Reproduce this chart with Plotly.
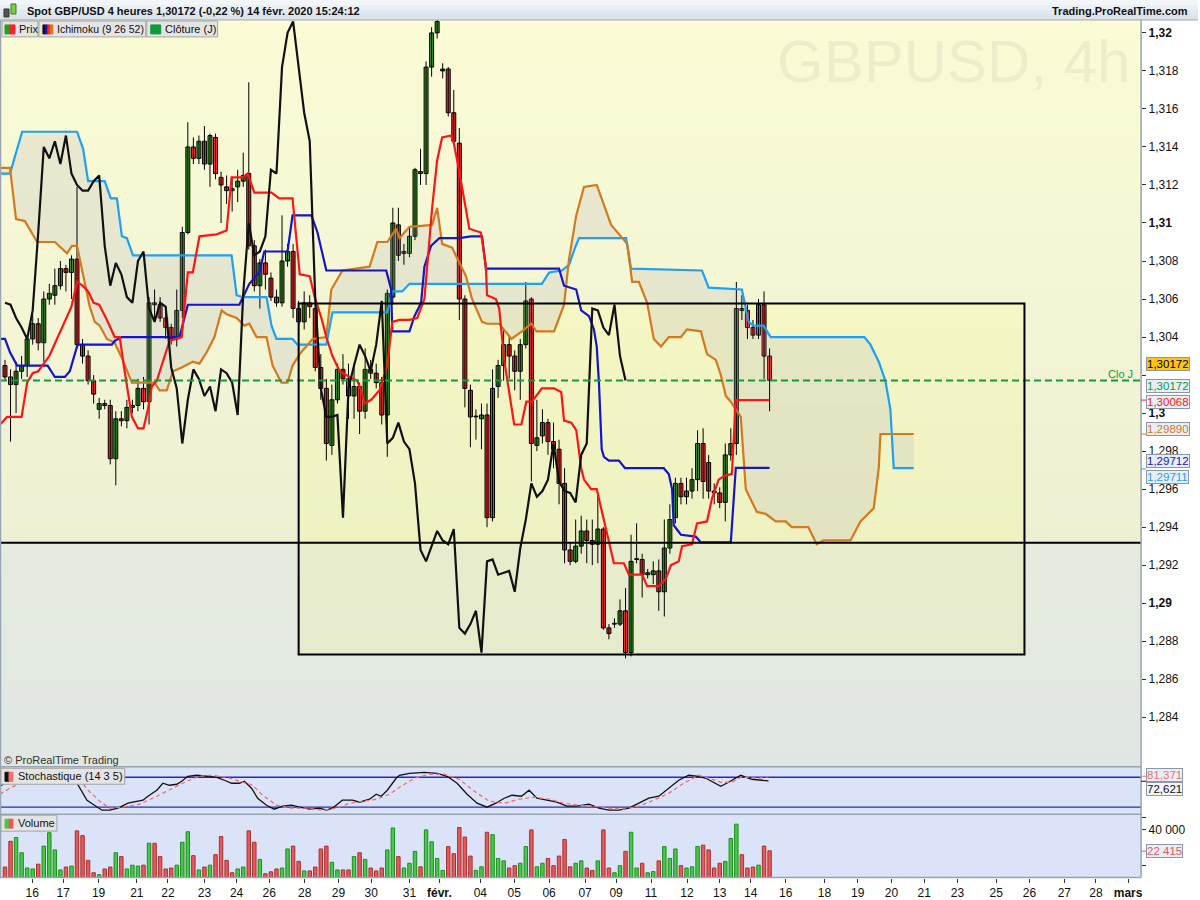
import plotly.graph_objects as go

W, H = 1200, 900
def fx(px): return px / W
def fy(py): return 1 - py / H

FONT = 'Liberation Sans, Arial, sans-serif'

# ---------------- data (4h candles, bar index 0 = first visible bar) ----------------
opens = [1.3025, 1.3019, 1.3015, 1.3022, 1.3025, 1.3039, 1.3047, 1.3037, 1.3060, 1.3062,
         1.3067, 1.3076, 1.3074, 1.3081, 1.3036, 1.3030, 1.3017, 1.3002, 1.3005, 1.3004,
         1.2976, 1.2997, 1.2996, 1.3003, 1.3004, 1.3013, 1.3006, 1.3058, 1.3057, 1.3050,
         1.3045, 1.3039, 1.3054, 1.3095, 1.3140, 1.3134, 1.3143, 1.3131, 1.3145, 1.3124,
         1.3119, 1.3118, 1.3119, 1.3122, 1.3126, 1.3088, 1.3067, 1.3079, 1.3071, 1.3061,
         1.3058, 1.3080, 1.3085, 1.3055, 1.3048, 1.3058, 1.3055, 1.3024, 1.3013, 1.2983,
         1.3007, 1.3023, 1.3018, 1.3009, 1.3014, 1.3001, 1.3023, 1.3021, 1.3016, 1.2999,
         1.3061, 1.3099, 1.3084, 1.3084, 1.3093, 1.3127, 1.3126, 1.3182, 1.3200, 1.3180,
         1.3181, 1.3158, 1.3142, 1.3060, 1.3012, 1.2998, 1.2997, 1.2999, 1.2945, 1.3014,
         1.3025, 1.3036, 1.3030, 1.3022, 1.3036, 1.3060, 1.2983, 1.2988, 1.2995, 1.2985,
         1.2981, 1.2963, 1.2928, 1.2922, 1.2930, 1.2938, 1.2933, 1.2931, 1.2939, 1.2887,
         1.2889, 1.2889, 1.2896, 1.2874, 1.2923, 1.2923, 1.2915, 1.2915, 1.2917, 1.2906,
         1.2929, 1.2945, 1.2963, 1.2956, 1.2959, 1.2965, 1.2984, 1.2974, 1.2959, 1.2958,
         1.2953, 1.2978, 1.2984, 1.3055, 1.3054, 1.3045, 1.3041, 1.3057, 1.3030]
highs = [1.3028, 1.3023, 1.3027, 1.3030, 1.3041, 1.3052, 1.3050, 1.3064, 1.3068, 1.3076,
         1.3080, 1.3078, 1.3083, 1.3119, 1.3039, 1.3033, 1.3020, 1.3008, 1.3007, 1.3007,
         1.3001, 1.3001, 1.3007, 1.3007, 1.3018, 1.3019, 1.3061, 1.3065, 1.3061, 1.3054,
         1.3047, 1.3065, 1.3098, 1.3153, 1.3145, 1.3146, 1.3151, 1.3147, 1.3147, 1.3127,
         1.3125, 1.3124, 1.3128, 1.3137, 1.3174, 1.3091, 1.3081, 1.3086, 1.3074, 1.3065,
         1.3104, 1.3089, 1.3089, 1.3059, 1.3064, 1.3062, 1.3057, 1.3031, 1.3018, 1.3015,
         1.3026, 1.3031, 1.3026, 1.3026, 1.3016, 1.3034, 1.3028, 1.3026, 1.3019, 1.3065,
         1.3108, 1.3108, 1.3089, 1.3098, 1.3129, 1.3139, 1.3185, 1.3203, 1.3207, 1.3184,
         1.3182, 1.3170, 1.3150, 1.3062, 1.3015, 1.3002, 1.3005, 1.3005, 1.3023, 1.3028,
         1.3044, 1.3041, 1.3033, 1.3039, 1.3069, 1.3061, 1.3007, 1.3002, 1.2997, 1.2995,
         1.2986, 1.2971, 1.2932, 1.2944, 1.2946, 1.2944, 1.2944, 1.2957, 1.2940, 1.2889,
         1.2892, 1.2902, 1.2908, 1.2936, 1.2942, 1.2926, 1.2918, 1.2922, 1.2923, 1.2944,
         1.2952, 1.2966, 1.2966, 1.2966, 1.2971, 1.2991, 1.2992, 1.2978, 1.2963, 1.2961,
         1.2984, 1.2992, 1.3069, 1.3062, 1.3057, 1.3049, 1.3060, 1.3064, 1.3034]
lows = [1.3017, 1.2985, 1.3000, 1.3018, 1.3019, 1.3036, 1.3033, 1.3027, 1.3057, 1.3057,
        1.3065, 1.3064, 1.3060, 1.3034, 1.3026, 1.3015, 1.3005, 1.2997, 1.3002, 1.2973,
        1.2962, 1.2993, 1.2992, 1.3000, 1.3001, 1.3002, 1.2994, 1.3049, 1.3048, 1.3039,
        1.3036, 1.3035, 1.3050, 1.3094, 1.3131, 1.3131, 1.3128, 1.3119, 1.3123, 1.3100,
        1.3110, 1.3106, 1.3111, 1.3119, 1.3086, 1.3064, 1.3055, 1.3065, 1.3059, 1.3056,
        1.3056, 1.3077, 1.3050, 1.3045, 1.3044, 1.3050, 1.3022, 1.3007, 1.2975, 1.2978,
        1.3005, 1.3015, 1.2997, 1.2997, 1.2989, 1.2997, 1.3018, 1.3013, 1.2994, 1.2977,
        1.3057, 1.3080, 1.3078, 1.3082, 1.3091, 1.3120, 1.3120, 1.3177, 1.3197, 1.3176,
        1.3156, 1.3141, 1.3049, 1.3003, 1.2982, 1.2986, 1.2981, 1.2940, 1.2943, 1.3008,
        1.3017, 1.3018, 1.3012, 1.3007, 1.3034, 1.2964, 1.2980, 1.2984, 1.2978, 1.2971,
        1.2952, 1.2921, 1.2920, 1.2921, 1.2926, 1.2921, 1.2920, 1.2921, 1.2886, 1.2881,
        1.2887, 1.2888, 1.2871, 1.2872, 1.2921, 1.2903, 1.2913, 1.2910, 1.2896, 1.2893,
        1.2926, 1.2942, 1.2952, 1.2952, 1.2955, 1.2959, 1.2955, 1.2955, 1.2952, 1.2950,
        1.2943, 1.2975, 1.2978, 1.3049, 1.3039, 1.3039, 1.3039, 1.3018, 1.3001]
closes = [1.3019, 1.3015, 1.3022, 1.3025, 1.3039, 1.3047, 1.3037, 1.3060, 1.3063, 1.3067,
          1.3076, 1.3074, 1.3081, 1.3036, 1.3030, 1.3017, 1.3010, 1.3005, 1.3004, 1.2976,
          1.2997, 1.2996, 1.3003, 1.3004, 1.3013, 1.3006, 1.3058, 1.3057, 1.3050, 1.3045,
          1.3039, 1.3054, 1.3095, 1.3140, 1.3134, 1.3143, 1.3131, 1.3146, 1.3126, 1.3120,
          1.3117, 1.3117, 1.3122, 1.3125, 1.3088, 1.3067, 1.3079, 1.3073, 1.3061, 1.3058,
          1.3080, 1.3085, 1.3055, 1.3048, 1.3058, 1.3056, 1.3024, 1.3013, 1.2984, 1.3007,
          1.3023, 1.3018, 1.3009, 1.3014, 1.3001, 1.3023, 1.3021, 1.3016, 1.2999, 1.3063,
          1.3100, 1.3083, 1.3085, 1.3093, 1.3128, 1.3126, 1.3182, 1.3200, 1.3206, 1.3181,
          1.3158, 1.3143, 1.3060, 1.3013, 1.2998, 1.2998, 1.2999, 1.2945, 1.3013, 1.3025,
          1.3036, 1.3030, 1.3022, 1.3036, 1.3059, 1.2984, 1.2987, 1.2995, 1.2985, 1.2981,
          1.2963, 1.2928, 1.2922, 1.2930, 1.2938, 1.2933, 1.2931, 1.2939, 1.2887, 1.2884,
          1.2889, 1.2896, 1.2874, 1.2922, 1.2923, 1.2915, 1.2916, 1.2917, 1.2906, 1.2929,
          1.2944, 1.2963, 1.2956, 1.2959, 1.2965, 1.2984, 1.2964, 1.2959, 1.2958, 1.2953,
          1.2978, 1.2984, 1.3055, 1.3054, 1.3045, 1.3041, 1.3057, 1.3030, 1.30172]
volumes = [8800, 30400, 33600, 20800, 8000, 7200, 11200, 26400, 37600, 23200,
           6400, 8800, 9600, 39200, 35200, 14400, 4000, 2400, 7200, 8800,
           20800, 17600, 7200, 10400, 9600, 10400, 28800, 28800, 17600, 7200,
           8000, 10400, 29600, 38400, 18400, 6400, 8800, 10400, 19200, 34400,
           14400, 4000, 7200, 8800, 39200, 29600, 15200, 3200, 4800, 7200,
           8000, 24000, 26400, 13600, 5600, 5600, 8800, 24000, 26400, 12800,
           6400, 6400, 6400, 17600, 20800, 15200, 8000, 5600, 8000, 23200,
           41600, 17600, 8000, 12000, 22000, 9000, 40000, 30000, 16000, 6000,
           26000, 20000, 42000, 34000, 18000, 6000, 9000, 38000, 36000, 16000,
           14000, 8000, 10000, 12000, 26000, 40000, 9000, 12000, 16000, 10000,
           18000, 32000, 9000, 12000, 14000, 8000, 6000, 14000, 40000, 8000,
           4000, 10000, 22000, 38000, 8000, 12000, 4000, 5000, 14000, 26000,
           16000, 24000, 10000, 8000, 9000, 26000, 27200, 23200, 8000, 12000,
           13600, 32800, 44800, 19200, 8000, 8800, 10400, 26400, 22415]

# Ichimoku (9 26 52) lines, read as vertices (bar index, price)
tenkan_bar = [-0.9, 0.4, 3, 4, 5, 6, 8, 10, 12, 13, 14, 15, 16, 17, 18.4, 19.8, 20.7, 21.6, 22.9, 24,
              25, 25.8, 26.5, 27.4, 28.5, 29.7, 31.9, 33, 33.9, 35.1, 38.2, 40, 40.9, 42.9, 43.8, 45,
              48.1, 49.5, 51.9, 53.2, 55, 55.9, 57.1, 58, 59.1, 60.4, 62.2, 63.6, 64.3, 64.9, 66.1,
              67.6, 69, 69.7, 69.9, 71.2, 73, 74.4, 75.7, 77.1, 78, 78.9, 80.5, 81, 82, 83.8, 85.9,
              86.8, 87, 88.6, 89.2, 90.1, 91, 91.9, 93.2, 94.1, 95.1, 96.9, 99.1, 100.4, 100.9,
              102.2, 103.1, 104, 104.5, 105.8, 106.8, 107.6, 109, 109.9, 111.7, 112.6, 115, 115.9,
              118, 119.3, 120.2, 121.6, 122.2, 124, 124.9, 126.7, 127.6, 128.8, 129.9, 131.2,
              131.9, 133.7, 138]
tenkan_val = [1.2994, 1.2998, 1.2998, 1.3016, 1.3021, 1.3022, 1.3030, 1.3043, 1.3056, 1.3069,
              1.3067, 1.3064, 1.3058, 1.3057, 1.3049, 1.3040, 1.3040, 1.3022, 1.2998, 1.2992,
              1.2992, 1.3002, 1.3014, 1.3017, 1.3027, 1.3038, 1.3040, 1.3074, 1.3074, 1.3093,
              1.3094, 1.3096, 1.3124, 1.3124, 1.3126, 1.3116, 1.3116, 1.3113, 1.3113, 1.3073,
              1.3072, 1.3061, 1.3050, 1.3040, 1.3030, 1.3022, 1.3019, 1.3017, 1.3012, 1.3005,
              1.3007, 1.3012, 1.3025, 1.3043, 1.3048, 1.3049, 1.3049, 1.3050, 1.3060, 1.3108,
              1.3133, 1.3145, 1.3146, 1.3142, 1.3127, 1.3097, 1.3095, 1.3077, 1.3062, 1.3060,
              1.3055, 1.3028, 1.3011, 1.2994, 1.2994, 1.3006, 1.3006, 1.3013, 1.3013, 1.3011,
              1.2996, 1.2995, 1.2991, 1.2971, 1.2965, 1.2960, 1.2960, 1.2950, 1.2933, 1.2921,
              1.2921, 1.2915, 1.2915, 1.2909, 1.2909, 1.2913, 1.2920, 1.2922, 1.2930, 1.2931,
              1.2942, 1.2943, 1.2955, 1.2965, 1.2967, 1.2968, 1.30068, 1.30068, 1.30068]
kijun_bar = [-0.9, 0, 0.9, 2.2, 7.7, 9, 10.8, 11.7, 13, 13.2, 19.3, 19.8, 21.1, 31.5, 33, 42.3,
             44.1, 45.9, 46.8, 51, 51.9, 55.3, 56.4, 58, 68.8, 69.7, 69.9, 73, 73.9, 75.1, 75.7,
             76.9, 78.4, 82, 84.1, 86.1, 86.8, 100, 100.9, 103.1, 104, 105.4, 106.3, 106.8, 107.2,
             107.7, 108.1, 109, 110.8, 111.9, 118.9, 119.8, 120.4, 120.7, 122, 124.7, 125.6, 131,
             131.9, 138]
kijun_val = [1.3039, 1.3039, 1.3032, 1.3025, 1.3025, 1.3019, 1.3019, 1.3022, 1.3035, 1.3036,
             1.3036, 1.3038, 1.3040, 1.3040, 1.3057, 1.3057, 1.3068, 1.3074, 1.3085, 1.3085,
             1.3104, 1.3104, 1.3095, 1.3075, 1.3075, 1.3065, 1.3043, 1.3043, 1.3051, 1.3058,
             1.3077, 1.3088, 1.3092, 1.3092, 1.3093, 1.3093, 1.3076, 1.3076, 1.3067, 1.3065,
             1.3054, 1.3051, 1.3044, 1.3035, 1.3016, 1.2981, 1.2977, 1.2975, 1.2975, 1.2971,
             1.2971, 1.2968, 1.2960, 1.2941, 1.2936, 1.2935, 1.2932, 1.2932, 1.29712, 1.29712]
span_blue_bar = [-0.9, 0.9, 3.1, 13, 14.1, 15, 18, 19.1, 20.2, 21.1, 22, 23.1, 40.9, 41.8, 42.9,
                 47.2, 48.1, 49, 51.9, 52.8, 58, 59.1, 69, 69.9, 71.7, 73, 96.9, 98.2, 100.5, 101.8,
                 102.9, 103.6, 112.1, 113, 125.8, 127, 133, 133.7, 134.2, 135.1, 136.9, 138.2,
                 155.1, 156.2, 157.7, 158.9, 159.8, 160.4, 164]
span_blue_val = [1.3126, 1.3126, 1.3148, 1.3148, 1.3139, 1.3122, 1.3122, 1.3113, 1.3113, 1.3093,
                 1.3092, 1.3083, 1.3083, 1.3062, 1.3061, 1.3061, 1.3046, 1.3039, 1.3039, 1.3036,
                 1.3036, 1.3053, 1.3053, 1.3064, 1.3064, 1.3068, 1.3068, 1.3074, 1.3075, 1.3078,
                 1.3087, 1.3092, 1.3092, 1.3076, 1.3075, 1.3066, 1.3065, 1.3056, 1.3048, 1.3046,
                 1.3046, 1.3040, 1.3040, 1.3036, 1.3027, 1.3017, 1.3002, 1.29711, 1.29711]
span_orange_bar = [-0.9, 0.9, 2, 3.6, 5.8, 9, 11.2, 12.1, 13, 14.1, 15.3, 16.2, 17.1, 18.4, 19.8,
                   21.1, 22.9, 27, 27.9, 29.2, 30.3, 31.9, 33.9, 35.1, 36.4, 37.8, 39.1, 40, 41.8,
                   43.2, 44.1, 45.4, 47.2, 48.3, 49.9, 51, 51.9, 53.2, 55.5, 58, 58.9, 60.9, 65.8,
                   67.2, 69, 70.6, 71.2, 72.1, 73, 77.1, 78, 78.9, 80.7, 83.2, 84.3, 86.1, 87, 89.2,
                   91.4, 93.3, 95, 95.9, 99.1, 100.9, 101.8, 103.1, 104.5, 106.8, 108.1, 109.4,
                   112.3, 113.2, 114.4, 115.9, 117.1, 118.4, 119.8, 122, 123.1, 125.6, 126.7, 128.3,
                   129.2, 130.1, 131, 132.8, 133.7, 134.8, 135.7, 137.3, 139.1, 140.9, 142, 145,
                   146.5, 147.7, 152.6, 154.4, 156.8, 157.7, 158, 164]
span_orange_val = [1.3129, 1.3129, 1.3102, 1.3101, 1.3090, 1.3090, 1.3084, 1.3088, 1.3088, 1.3072,
                   1.3056, 1.3048, 1.3046, 1.3039, 1.3037, 1.3029, 1.3016, 1.3016, 1.3012, 1.3012,
                   1.3022, 1.3024, 1.3027, 1.3026, 1.3032, 1.3040, 1.3054, 1.3052, 1.3050, 1.3046,
                   1.3047, 1.3040, 1.3040, 1.3025, 1.3016, 1.3016, 1.3025, 1.3031, 1.3039, 1.3040,
                   1.3065, 1.3075, 1.3077, 1.3090, 1.3090, 1.3097, 1.3092, 1.3095, 1.3098, 1.3099,
                   1.3108, 1.3089, 1.3087, 1.3072, 1.3060, 1.3048, 1.3047, 1.3047, 1.3039, 1.3043,
                   1.3047, 1.3043, 1.3043, 1.3057, 1.3081, 1.3104, 1.3119, 1.3120, 1.3110, 1.3099,
                   1.3089, 1.3069, 1.3069, 1.3058, 1.3039, 1.3035, 1.3040, 1.3040, 1.3044, 1.3043,
                   1.3031, 1.3028, 1.3020, 1.3009, 1.3006, 1.2998, 1.2960, 1.2953, 1.2948, 1.2947,
                   1.2943, 1.2943, 1.2940, 1.2940, 1.2931, 1.2933, 1.2933, 1.2943, 1.2950, 1.2971,
                   1.2989, 1.2989]
chikou_shift = 26

# Stochastic (14 3 5)
stoch_k_bar = [-0.9, 1.8, 9.9, 13, 14.8, 16.6, 17.5, 18.9, 20.4, 22.2, 23.8, 24.9, 25.8, 27.4, 28.5,
               29.7, 31, 31.9, 33, 34.6, 36.4, 38.2, 39.6, 40.9, 42.3, 43.2, 44.5, 45.6, 47.2, 48.6,
               50.1, 51.7, 53.2, 55, 56.8, 58, 59.1, 60.9, 62.7, 64, 65.8, 67, 67.9, 69, 70.6, 71.2,
               73, 75.7, 78, 79.8, 81.6, 83.4, 85.2, 87, 88.6, 90.1, 91.5, 93.2, 94.6, 96, 97.8,
               99.6, 101.4, 103.2, 105.4, 107.2, 109, 110.8, 112.6, 114.4, 116.2, 118, 119.8, 121.6,
               123.4, 125.2, 126.5, 129.2, 130.6, 132.8, 134.8, 136.6, 137.8]
stoch_k_val = [62, 82, 88, 68, 34, 20, 14, 14, 18, 28, 32, 34, 42, 54, 68, 64, 66, 72, 82, 84,
               82, 80, 74, 68, 68, 72, 58, 38, 24, 16, 22, 24, 20, 16, 18, 14, 18, 34, 34, 30,
               36, 46, 42, 54, 78, 84, 88, 90, 88, 82, 68, 46, 28, 20, 28, 38, 44, 42, 54, 38,
               34, 30, 22, 22, 26, 18, 14, 14, 18, 28, 38, 42, 58, 74, 84, 82, 78, 62, 70, 84,
               76, 74, 72.621]
stoch_d_bar = [-0.9, 0.9, 2.7, 6.3, 13, 15, 17.1, 18.9, 21.3, 24.3, 27.4, 30.3, 32.8, 35.1, 37.5,
               40, 42.3, 44.7, 46.5, 49, 51.4, 54.4, 57.3, 59.8, 62.2, 64.5, 67, 69.4, 71.2, 73.9,
               76.6, 79.3, 82, 84.7, 87.4, 90.1, 92.8, 95.5, 98.2, 100.9, 103.6, 106.3, 109, 111.7,
               114.4, 117.1, 119.8, 122.5, 125.2, 127.6, 129.2, 131.2, 132.8, 134.2, 136, 137.8]
stoch_d_val = [46, 58, 68, 78, 82, 54, 32, 18, 20, 26, 42, 58, 72, 82, 84, 80, 72, 64, 44, 24,
               18, 18, 14, 18, 28, 32, 36, 46, 60, 78, 86, 86, 76, 52, 32, 28, 36, 40, 36, 28,
               24, 22, 18, 16, 22, 34, 48, 68, 84, 76, 70, 70, 80, 80, 78, 81.371]
stoch_levels = [80, 20]

# drawn objects
zone_x0, zone_x1 = 53.0, 184.0
zone_lo, zone_hi = 1.2873, 1.30577
support_level = 1.29318
last_close = 1.30172

# axis labels
x_tick_bars = [4.9, 10.5, 16.9, 23.8, 29.4, 36.0, 41.8, 47.7, 54.1, 60.2, 66.1, 73.0, 78.4, 85.8,
               91.9, 98.2, 104.7, 110.3, 116.6, 123.1, 129.0, 134.6, 140.9, 147.9, 153.9, 160.0,
               165.9, 171.9, 178.9, 184.9, 191.2, 196.9, 202.7]
x_tick_text = ['16', '17', '19', '21', '22', '23', '24', '26', '28', '29', '30', '31', '<b>févr.</b>',
               '04', '05', '06', '07', '09', '11', '12', '13', '14', '16', '18', '19', '20', '21',
               '23', '25', '26', '27', '28', '<b>mars</b>']
price_ticks = [1.284, 1.286, 1.288, 1.29, 1.292, 1.294, 1.296, 1.298, 1.30, 1.302, 1.304, 1.306,
               1.308, 1.31, 1.312, 1.314, 1.316, 1.318, 1.32]
price_tick_text = ['1,284', '1,286', '1,288', '<b>1,29</b>', '1,292', '1,294', '1,296', '1,298',
                   '<b>1,3</b>', '', '1,304', '1,306', '1,308', '<b>1,31</b>', '1,312', '1,314',
                   '1,316', '1,318', '<b>1,32</b>']
vol_ticks = [10000, 40000, 50000]
vol_tick_text = ['', '40 000', '']

# ---------------- figure ----------------
n = len(closes)
bars = list(range(n))
chikou_bars = bars[:n - chikou_shift]
chikou_vals = closes[chikou_shift:]
up = [c >= o for o, c in zip(opens, closes)]

fig = go.Figure()

# Kumo fill
fig.add_trace(go.Scatter(x=span_blue_bar, y=span_blue_val, mode='lines',
                         line=dict(width=0, color='rgba(0,0,0,0)'), hoverinfo='skip'))
fig.add_trace(go.Scatter(x=span_orange_bar, y=span_orange_val, mode='lines',
                         line=dict(width=0, color='rgba(0,0,0,0)'), fill='tonexty',
                         fillcolor='rgba(175,170,190,0.20)', hoverinfo='skip'))

# candle wicks
wx, wy = [], []
for i, h, l in zip(bars, highs, lows):
    wx += [i, i, None]
    wy += [l, h, None]
fig.add_trace(go.Scatter(x=wx, y=wy, mode='lines', line=dict(color='#000000', width=1),
                         hoverinfo='skip'))
# candle bodies (min visible height so dojis show as thin boxes)
MIN_BODY = 0.00004
fig.add_trace(go.Bar(x=bars, base=[min(o, c) for o, c in zip(opens, closes)],
                     y=[max(abs(c - o), MIN_BODY) for o, c in zip(opens, closes)],
                     width=0.72,
                     marker=dict(color=['#3C9A1C' if u else '#FF2A2A' for u in up],
                                 line=dict(color='#000000', width=1)),
                     hoverinfo='skip'))

for xs, ys, col in [(span_blue_bar, span_blue_val, '#1EA0F5'),
                    (span_orange_bar, span_orange_val, '#D27A1E'),
                    (kijun_bar, kijun_val, '#1414C8'),
                    (tenkan_bar, tenkan_val, '#FF1414'),
                    (chikou_bars, chikou_vals, '#111111')]:
    fig.add_trace(go.Scatter(x=xs, y=ys, mode='lines', line=dict(color=col, width=2.2),
                             hoverinfo='skip'))

# stochastic
fig.add_trace(go.Scatter(x=stoch_k_bar, y=stoch_k_val, yaxis='y2', mode='lines',
                         line=dict(color='#111111', width=1.3), hoverinfo='skip'))
fig.add_trace(go.Scatter(x=stoch_d_bar, y=stoch_d_val, yaxis='y2', mode='lines',
                         line=dict(color='#F07070', width=1.3, dash='4px,3px'), hoverinfo='skip'))

# volume
fig.add_trace(go.Bar(x=bars, y=volumes, yaxis='y3', width=0.62,
                     marker=dict(color=['#48C848' if u else '#E65A5A' for u in up],
                                 line=dict(color=['#1E8C1E' if u else '#A83030' for u in up], width=1)),
                     hoverinfo='skip'))

shapes = []
PLOT_R = fx(1143)

def mix(c0, c1, t):
    return 'rgb(%d,%d,%d)' % tuple(round(a + (b - a) * t) for a, b in zip(c0, c1))

def bands(ytop, ybot, c0, c1, nb):
    for i in range(nb):
        y0 = ytop + (ybot - ytop) * i / nb
        y1 = ytop + (ybot - ytop) * (i + 1) / nb
        shapes.append(dict(type='rect', xref='paper', yref='paper', x0=0, x1=PLOT_R,
                           y0=fy(y1 + 0.6), y1=fy(y0), fillcolor=mix(c0, c1, (i + 0.5) / nb),
                           line=dict(width=0), layer='below'))

bands(20, 544, (251, 251, 213), (237, 240, 211), 30)
bands(544, 768, (229, 235, 222), (224, 231, 226), 14)
shapes.append(dict(type='rect', xref='paper', yref='paper', x0=0, x1=PLOT_R, y0=fy(879.5), y1=fy(768),
                   fillcolor='#DAE3F8', line=dict(width=0), layer='below'))
shapes.append(dict(type='rect', xref='x', yref='y', x0=zone_x0, x1=zone_x1, y0=zone_lo, y1=zone_hi,
                   fillcolor='rgba(255,255,60,0.11)', line=dict(width=0), layer='below'))
shapes.append(dict(type='line', xref='paper', yref='y', x0=0, x1=PLOT_R, y0=last_close, y1=last_close,
                   line=dict(color='#17993A', width=2, dash='7px,4px'), layer='above'))
shapes.append(dict(type='rect', xref='x', yref='y', x0=zone_x0, x1=zone_x1, y0=zone_lo, y1=zone_hi,
                   line=dict(color='#000000', width=2), fillcolor='rgba(0,0,0,0)', layer='above'))
shapes.append(dict(type='line', xref='paper', yref='y', x0=0, x1=PLOT_R, y0=support_level, y1=support_level,
                   line=dict(color='#000000', width=2), layer='above'))
for lv in stoch_levels:
    shapes.append(dict(type='line', xref='paper', yref='y2', x0=0, x1=PLOT_R, y0=lv, y1=lv,
                       line=dict(color='#2828C0', width=1.3), layer='below'))
BORDER = '#98A4B2'
for ypx in [768.5, 816, 879.5]:
    shapes.append(dict(type='line', xref='paper', yref='paper', x0=0, x1=PLOT_R, y0=fy(ypx), y1=fy(ypx),
                       line=dict(color=BORDER, width=1.5), layer='above'))
shapes.append(dict(type='line', xref='paper', yref='paper', x0=PLOT_R, x1=PLOT_R, y0=fy(879.5), y1=fy(20),
                   line=dict(color=BORDER, width=1.5), layer='above'))
shapes.append(dict(type='line', xref='paper', yref='paper', x0=fx(0.5), x1=fx(0.5), y0=fy(879.5), y1=fy(20),
                   line=dict(color=BORDER, width=1.5), layer='above'))
for i, c in enumerate(['#F2F5F9', '#EAEFF4', '#E2E8EF', '#DCE3EB']):
    shapes.append(dict(type='rect', xref='paper', yref='paper', x0=0, x1=1, y0=fy(5 * (i + 1)), y1=fy(5 * i),
                       fillcolor=c, line=dict(width=0), layer='above'))
shapes.append(dict(type='line', xref='paper', yref='paper', x0=0, x1=1, y0=fy(20), y1=fy(20),
                   line=dict(color='#9AA6B4', width=1), layer='above'))
shapes.append(dict(type='rect', xref='paper', yref='paper', x0=fx(4), x1=fx(9), y0=fy(17), y1=fy(9),
                   fillcolor='#555555', line=dict(color='#333333', width=1), layer='above'))
shapes.append(dict(type='rect', xref='paper', yref='paper', x0=fx(11), x1=fx(16), y0=fy(14), y1=fy(4),
                   fillcolor='#7CD040', line=dict(color='#3A7A20', width=1), layer='above'))

def box(x0, x1, y0, y1, fill='#E4E4E4', line='#A4A4A4'):
    shapes.append(dict(type='rect', xref='paper', yref='paper', x0=fx(x0), x1=fx(x1), y0=fy(y1), y1=fy(y0),
                       fillcolor=fill, line=dict(color=line, width=1), layer='above'))

box(2, 38, 21, 37); box(39, 146, 21, 37); box(147, 218, 21, 37)
box(5, 10, 25, 34, '#22A022', '#22A022'); box(10, 15, 25, 34, '#FF2020', '#FF2020')
for j, c in enumerate(['#111111', '#1414C8', '#FF2020', '#D27A1E']):
    box(43 + 2.5 * j, 45.5 + 2.5 * j, 25, 34, c, c)
box(151, 161, 25, 34, '#109A3A', '#109A3A')
box(1, 125, 770, 786); box(1, 57, 817, 833)
box(5, 9, 774, 783, '#111111', '#111111'); box(9, 13, 774, 783, '#F07070', '#F07070')
box(5, 9, 821, 830, '#48C848', '#48C848'); box(9, 13, 821, 830, '#E65A5A', '#E65A5A')
for ypx, c in [(401, '#FF2020'), (435, '#D27A1E'), (470, '#1EA0F5'), (778, '#F07070'), (783, '#111111'), (853, '#E65A5A')]:
    shapes.append(dict(type='line', xref='paper', yref='paper', x0=PLOT_R, x1=fx(1148), y0=fy(ypx), y1=fy(ypx),
                       line=dict(color=c, width=1), layer='above'))

ann = []
def text(x, y, s, size=12, color='#111111', anchor='left', bold=False, bg=None, border=None):
    d = dict(xref='paper', yref='paper', x=fx(x), y=fy(y), text=('<b>%s</b>' % s) if bold else s,
             showarrow=False, xanchor=anchor, yanchor='middle',
             font=dict(family=FONT, size=size, color=color))
    if bg:
        d.update(bgcolor=bg, bordercolor=border or '#8C98A8', borderwidth=1, borderpad=0)
    ann.append(d)

text(955, 62, 'GBPUSD, 4h', 60, '#EDEDCB', anchor='center')
text(25, 11, 'Spot GBP/USD 4 heures 1,30172 (-0,22 %) 14 févr. 2020 15:24:12', 11, '#111111', bold=True)
text(1192, 11, 'Trading.ProRealTime.com', 11, '#111111', anchor='right', bold=True)
text(17, 29.5, 'Prix', 11)
text(55, 29.5, 'Ichimoku (9 26 52)', 10.5)
text(163, 29.5, 'Clôture (J)', 11)
text(1122, 375, 'Clo J', 11, '#17993A', anchor='center')
text(2, 762, '© ProRealTime Trading', 11, '#333333')
text(16, 778, 'Stochastique (14 3 5)', 11)
text(16, 825, 'Volume', 11)
text(1148, 365, '1,30172', 11.5, '#000000', bg='#FFC414')
text(1148, 387, '1,30172', 11.5, '#109A3A', bg='#E9EEF6')
text(1148, 403, '1,30068', 11.5, '#FF1414', bg='#E9EEF6')
text(1148, 430, '1,29890', 11.5, '#D27A1E', bg='#E9EEF6')
text(1148, 462, '1,29712', 11.5, '#1414C8', bg='#E9EEF6')
text(1148, 478, '1,29711', 11.5, '#1EA0F5', bg='#E9EEF6')
text(1148, 777, '81,371', 11.5, '#F07070', bg='#E9EEF6')
text(1148, 791, '72,621', 11.5, '#111111', bg='#F4F6FA')
text(1148, 853, '22 415', 11.5, '#E65A5A', bg='#E9EEF6')

axis_font = dict(family=FONT, size=12, color='#111111')
fig.update_layout(
    width=W, height=H, margin=dict(l=0, r=0, t=0, b=0),
    paper_bgcolor='#FFFFFF', plot_bgcolor='rgba(0,0,0,0)', showlegend=False,
    font=dict(family=FONT), barmode='overlay',
    xaxis=dict(domain=[0, PLOT_R], range=[-0.9, 205.05], anchor='y3', tickvals=x_tick_bars,
               ticktext=x_tick_text, ticks='outside', ticklen=4, tickcolor='#333333',
               showgrid=False, zeroline=False, showline=False, tickfont=axis_font,
               rangeslider=dict(visible=False), fixedrange=True),
    yaxis=dict(domain=[fy(768), fy(20)], range=[1.28142, 1.32068], side='right', anchor='x',
               tickvals=price_ticks, ticktext=price_tick_text, ticks='outside', ticklen=4,
               tickcolor='#333333', showgrid=False, zeroline=False, showline=False,
               tickfont=axis_font, fixedrange=True),
    yaxis2=dict(domain=[fy(816), fy(769)], range=[6, 100], side='right', anchor='x',
                showticklabels=False, ticks='', showgrid=False, zeroline=False, fixedrange=True),
    yaxis3=dict(domain=[fy(879.5), fy(816)], range=[0, 53180], side='right', anchor='x',
                tickvals=vol_ticks, ticktext=vol_tick_text, ticks='outside', ticklen=4,
                tickcolor='#333333', showgrid=False, zeroline=False, showline=False,
                tickfont=axis_font, fixedrange=True),
    shapes=shapes, annotations=ann,
)

fig.write_html('out.html', config={'displayModeBar': False},
               post_script="document.body.style.margin='0px';document.body.style.overflow='hidden';")
